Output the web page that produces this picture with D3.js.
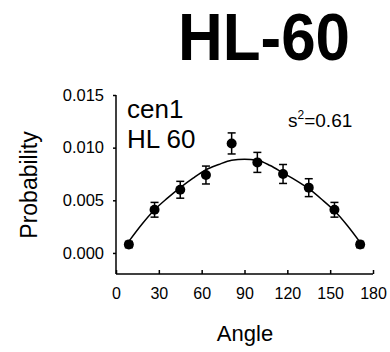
<!DOCTYPE html>
<html>
<head>
<meta charset="utf-8">
<script src="https://cdn.jsdelivr.net/npm/d3@7"></script>
<style>
  body { margin: 0; background: #fff; }
  svg text { font-family: Arial, "Liberation Sans", sans-serif; fill: #000; }
</style>
</head>
<body>
<div id="chart"></div>
<script>
document.addEventListener("DOMContentLoaded", function() {
  "use strict";

  // ---- data ----
  const angles = [9, 27, 45, 63, 81, 99, 117, 135, 153, 171];
  const probs = [0.0008, 0.0041, 0.0060, 0.0074, 0.0104, 0.0086, 0.0075, 0.0062, 0.0041, 0.0008];
  const errors = [0.0003, 0.0007, 0.0008, 0.00085, 0.001, 0.00095, 0.0009, 0.00085, 0.0007, 0.0003];
  const fitAngles = [9, 18, 27, 36, 45, 54, 63, 72, 81, 90, 99, 108, 117, 126, 135, 144, 153, 162, 171];
  const fitProbs = [0.0011, 0.0027, 0.0041, 0.0052, 0.0062, 0.0071, 0.0079, 0.0084, 0.0088, 0.0089,
                    0.0088, 0.0083, 0.0076, 0.0069, 0.0061, 0.0051, 0.0040, 0.0026, 0.0010];
  const xTicks = [0, 30, 60, 90, 120, 150, 180];
  const yTicks = [0, 0.005, 0.010, 0.015];

  const w = 390;
  const h = 352;

  const svg = d3.select("#chart").append("svg")
    .attr("width", w)
    .attr("height", h);

  // scales
  const x = d3.scaleLinear().domain([0, 180]).range([116, 373]);
  const y = d3.scaleLinear().domain([-0.002, 0.015]).range([274, 95]);

  // title
  svg.append("text")
    .attr("x", 178).attr("y", 60)
    .attr("textLength", 172)
    .attr("lengthAdjust", "spacingAndGlyphs")
    .style("font-size", "67px")
    .style("font-weight", "bold")
    .text("HL-60");

  // y axis (ticks outward)
  const yAxis = svg.append("g")
    .attr("transform", `translate(${x(0)},0)`)
    .call(d3.axisLeft(y).tickValues(yTicks).tickSize(3).tickPadding(9).tickFormat(d3.format(".3f")));
  yAxis.select(".domain").attr("d", `M0,${y(-0.002)}V${y(0.015)}`);

  // x axis (ticks inward)
  const xAxis = svg.append("g")
    .attr("transform", `translate(0,${y(-0.002)})`)
    .call(d3.axisBottom(x).tickValues(xTicks).tickSize(-4).tickPadding(14));
  xAxis.select(".domain").attr("d", `M${x(0)},0H${x(180)}`);

  svg.selectAll(".domain, .tick line")
    .attr("stroke", "#000")
    .attr("stroke-width", 1.5);
  svg.selectAll(".tick text")
    .style("font-size", "16px")
    .attr("fill", "#000");
  yAxis.selectAll(".tick text").style("font-size", "16.5px");

  // axis titles
  svg.append("text")
    .attr("transform", "translate(37,185) rotate(-90)")
    .attr("text-anchor", "middle")
    .style("font-size", "23px")
    .text("Probability");

  svg.append("text")
    .attr("x", 245).attr("y", 341)
    .attr("text-anchor", "middle")
    .style("font-size", "22px")
    .text("Angle");

  // annotations
  svg.append("text")
    .attr("x", 127).attr("y", 118)
    .style("font-size", "26px")
    .text("cen1");
  svg.append("text")
    .attr("x", 127).attr("y", 148)
    .style("font-size", "26px")
    .text("HL 60");

  const s2 = svg.append("text")
    .attr("x", 288).attr("y", 127)
    .style("font-size", "19px");
  s2.append("tspan").text("s");
  s2.append("tspan").attr("dy", -8).style("font-size", "12px").text("2");
  s2.append("tspan").attr("dy", 8).text("=0.61");

  // fitted curve
  const fitData = fitAngles.map((a, i) => ({angle: a, p: fitProbs[i]}));
  const line = d3.line()
    .x(d => x(d.angle))
    .y(d => y(d.p))
    .curve(d3.curveMonotoneX);
  svg.append("path")
    .datum(fitData)
    .attr("d", line)
    .attr("fill", "none")
    .attr("stroke", "#000")
    .attr("stroke-width", 1.5);

  // points with error bars
  const pts = angles.map((a, i) => ({angle: a, p: probs[i], err: errors[i]}));
  const g = svg.append("g").selectAll("g")
    .data(pts).enter()
    .append("g");

  g.append("line")
    .attr("x1", d => x(d.angle)).attr("x2", d => x(d.angle))
    .attr("y1", d => y(d.p - d.err)).attr("y2", d => y(d.p + d.err))
    .attr("stroke", "#000").attr("stroke-width", 1.5);
  g.append("line")
    .attr("x1", d => x(d.angle) - 4).attr("x2", d => x(d.angle) + 4)
    .attr("y1", d => y(d.p + d.err)).attr("y2", d => y(d.p + d.err))
    .attr("stroke", "#000").attr("stroke-width", 1.5);
  g.append("line")
    .attr("x1", d => x(d.angle) - 4).attr("x2", d => x(d.angle) + 4)
    .attr("y1", d => y(d.p - d.err)).attr("y2", d => y(d.p - d.err))
    .attr("stroke", "#000").attr("stroke-width", 1.5);
  g.append("circle")
    .attr("cx", d => x(d.angle))
    .attr("cy", d => y(d.p))
    .attr("r", 5)
    .attr("fill", "#000");
});
</script>
</body>
</html>
